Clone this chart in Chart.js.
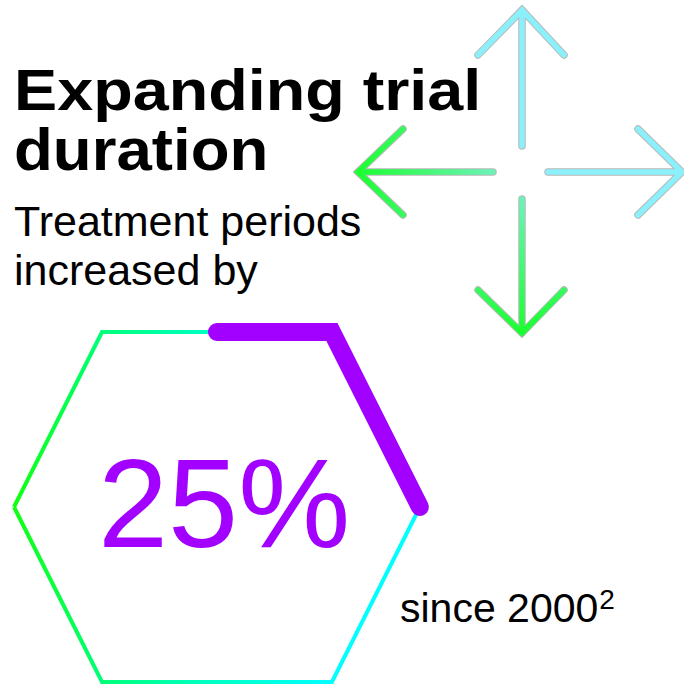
<!DOCTYPE html>
<html>
<head>
<meta charset="utf-8">
<script src="https://cdn.jsdelivr.net/npm/chart.js@4.4.1/dist/chart.umd.min.js"></script>
<style>
  html, body { margin: 0; padding: 0; background: #fff; }
  body { width: 684px; height: 686px; position: relative; overflow: hidden;
         font-family: "Liberation Sans", Arial, sans-serif; color: #000; }
  .txt { position: absolute; white-space: nowrap; line-height: 1; }
  .title { font-weight: bold; left: 14px; transform-origin: 0 0; }
  .sub { font-size: 43px; left: 14px; }
  #value { font-size: 126px; color: #a200ff; left: 98px; top: 441px; z-index: 2; }
  #since { font-size: 41px; left: 400px; top: 588px; }
  #since span { font-size: 28px; position: relative; top: -13px; margin-left: 1px; }
  #hexCanvas { position: absolute; left: 0; top: 310px; }
  #arrows { position: absolute; left: 0; top: 0; }
</style>
</head>
<body>
<div class="txt title" style="top:62px; font-size:57px; transform:scaleX(1.135)">Expanding trial</div>
<div class="txt title" style="top:120px; font-size:60px; transform:scaleX(1.06)">duration</div>
<div class="txt sub" style="top:200px">Treatment periods</div>
<div class="txt sub" style="top:249px">increased by</div>
<div class="txt" id="value"></div>
<div class="txt" id="since">since 2000<span>2</span></div>

<svg id="arrows" width="684" height="686">
  <defs>
    <linearGradient id="gLeft" gradientUnits="userSpaceOnUse" x1="358" y1="0" x2="493" y2="0">
      <stop offset="0" stop-color="#1aff30"/>
      <stop offset="1" stop-color="#6cf2b8"/>
    </linearGradient>
    <linearGradient id="gDown" gradientUnits="userSpaceOnUse" x1="0" y1="199" x2="0" y2="333">
      <stop offset="0" stop-color="#6cf2b8"/>
      <stop offset="1" stop-color="#1aff30"/>
    </linearGradient>
  </defs>
  <g fill="none" stroke-linecap="round" stroke-linejoin="miter">
    <g stroke="#b8b8b8" stroke-width="7.5">
      <path d="M478 55 L522 10 L564 55 M522 10 L522 146"/>
      <path d="M638 129 L682 172 L638 215 M682 172 L548 172"/>
      <path d="M403 129 L358 172 L403 215 M358 172 L493 172"/>
      <path d="M478 290 L522 333 L564 290 M522 333 L522 199"/>
    </g>
    <g stroke-width="5.5">
      <path stroke="#8cf0fa" d="M478 55 L522 10 L564 55 M522 10 L522 146"/>
      <path stroke="#8cf0fa" d="M638 129 L682 172 L638 215 M682 172 L548 172"/>
      <path stroke="url(#gLeft)" d="M403 129 L358 172 L403 215 M358 172 L493 172"/>
      <path stroke="url(#gDown)" d="M478 290 L522 333 L564 290 M522 333 L522 199"/>
    </g>
  </g>
</svg>

<canvas id="hexCanvas" width="460" height="376"></canvas>

<script>
// hexagon outline (vertices: left, top-left, top-right, right, bottom-right, bottom-left)
const hexagonX = [-1.16, -0.657, 0.657, 1.16, 0.657, -0.657];
const hexagonY = [0, 1, 1, 0, -1, -1];
// share of the outline to highlight
const percentIncrease = 25;

document.getElementById('value').textContent = percentIncrease + '%';

const hexPoints = hexagonX.map((x, i) => ({ x: x, y: hexagonY[i] }));

// walk clockwise from the middle of the top edge
function progressPoints(pct) {
  const start = { x: (hexPoints[1].x + hexPoints[2].x) / 2, y: (hexPoints[1].y + hexPoints[2].y) / 2 };
  const route = [start, hexPoints[2], hexPoints[3], hexPoints[4], hexPoints[5], hexPoints[0], hexPoints[1], start];
  const len = (a, b) => Math.hypot(b.x - a.x, b.y - a.y);
  let total = 0;
  for (let i = 0; i < route.length - 1; i++) total += len(route[i], route[i + 1]);
  let left = total * pct / 100;
  const out = [start];
  for (let i = 0; i < route.length - 1 && left > 1e-9; i++) {
    const d = len(route[i], route[i + 1]);
    if (d <= left) {
      out.push(route[i + 1]);
      left -= d;
    } else {
      const f = left / d;
      out.push({ x: route[i].x + (route[i + 1].x - route[i].x) * f,
                 y: route[i].y + (route[i + 1].y - route[i].y) * f });
      left = 0;
    }
  }
  return out;
}

function hexStroke(context) {
  const chart = context.chart;
  const { ctx, chartArea, scales } = chart;
  if (!chartArea) return '#00ffaa';
  const x0 = scales.x.getPixelForValue(Math.min(...hexagonX));
  const x1 = scales.x.getPixelForValue(hexagonX[4]);
  const g = ctx.createLinearGradient(x0, 0, x1, 0);
  g.addColorStop(0, '#12ff12');
  g.addColorStop(0.28, '#00ff7a');
  g.addColorStop(0.6, '#00ffc0');
  g.addColorStop(1, '#00ffff');
  return g;
}

new Chart(document.getElementById('hexCanvas'), {
  type: 'scatter',
  data: {
    datasets: [
      {
        label: 'increase',
        data: progressPoints(percentIncrease),
        showLine: true,
        borderColor: '#a200ff',
        borderWidth: 18,
        borderCapStyle: 'round',
        borderJoinStyle: 'miter',
        pointRadius: 0,
        clip: false
      },
      {
        label: 'outline',
        data: hexPoints.concat([hexPoints[0]]),
        showLine: true,
        borderColor: hexStroke,
        borderWidth: 4,
        borderJoinStyle: 'miter',
        pointRadius: 0,
        clip: false
      }
    ]
  },
  options: {
    responsive: false,
    animation: false,
    events: [],
    layout: { padding: 0, autoPadding: false },
    plugins: { legend: { display: false }, tooltip: { enabled: false } },
    scales: {
      x: { type: 'linear', min: -1.24, max: 1.389, display: false },
      y: { type: 'linear', min: -1.0229, max: 1.1257, display: false }
    }
  }
});
</script>
</body>
</html>
